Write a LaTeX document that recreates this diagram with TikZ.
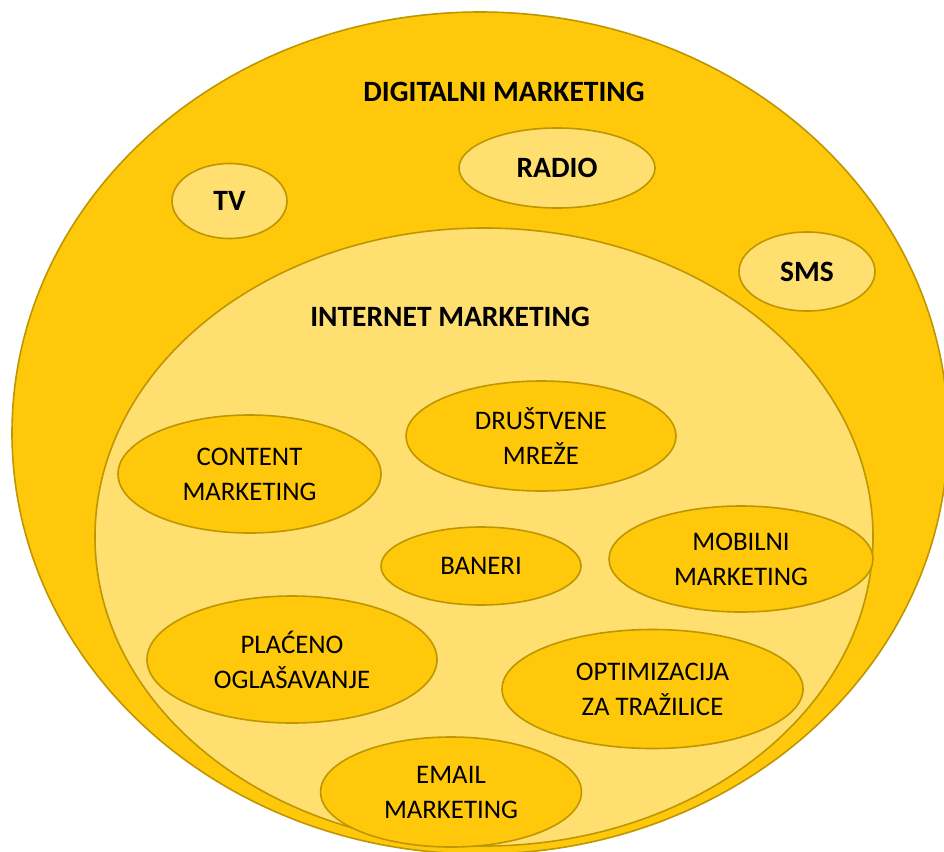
\documentclass[tikz,border=0pt]{standalone}
\usepackage{fontspec}
\setmainfont{Carlito}
\usetikzlibrary{shapes.geometric}

\definecolor{goldfill}{RGB}{255,200,10}
\definecolor{palegold}{RGB}{255,223,112}
\definecolor{goldline}{RGB}{190,150,0}

\begin{document}
\begin{tikzpicture}[x=1pt, y=-1pt,
    bubble/.style={ellipse, draw=goldline, line width=1.6pt, inner sep=0pt, align=center},
    goldbubble/.style={bubble, fill=goldfill, font=\fontsize{26.8}{35}\selectfont},
    palebubble/.style={bubble, fill=palegold, font=\bfseries\fontsize{29.5}{34}\selectfont},
    heading/.style={font=\bfseries\fontsize{29.5}{34}\selectfont}]
                    % Frame:
                    \useasboundingbox (0, 0) rectangle (944, 851);
                    \clip (0, 0) rectangle (944, 851);
                    % Outer and inner areas:
                    \node[bubble, fill=goldfill, minimum width=936, minimum height=842] (digital) at (480, 433) {};
                    \node[heading] (digitaltitle) at (504, 92) {DIGITALNI MARKETING};
                    \node[palebubble, minimum width=115, minimum height=75] (tv) at (229.5, 201) {TV};
                    \node[palebubble, minimum width=196, minimum height=80] (radio) at (557, 168) {RADIO};
                    \node[palebubble, minimum width=136, minimum height=79] (sms) at (807, 271.5) {SMS};
                    \node[bubble, fill=palegold, minimum width=778, minimum height=618] (internet) at (484, 537) {};
                    \node[heading] (internettitle) at (450, 317) {INTERNET MARKETING};
                    % Channels of internet marketing:
                    \node[goldbubble, minimum width=263, minimum height=118] (content) at (249.5, 474) {CONTENT\\MARKETING};
                    \node[goldbubble, minimum width=270, minimum height=110] (social) at (541, 436) {DRUŠTVENE\\MREŽE};
                    \node[goldbubble, minimum width=200, minimum height=78] (banners) at (481, 566) {BANERI};
                    \node[goldbubble, minimum width=264, minimum height=106] (mobile) at (741, 559) {MOBILNI\\MARKETING};
                    \node[goldbubble, minimum width=290, minimum height=127] (paid) at (292, 659.5) {PLAĆENO\\OGLAŠAVANJE};
                    \node[goldbubble, minimum width=301, minimum height=119] (seo) at (652.5, 689) {OPTIMIZACIJA\\ZA TRAŽILICE};
                    \node[goldbubble, minimum width=261, minimum height=110] (email) at (451, 792) {EMAIL\\MARKETING};
                \end{tikzpicture}
\end{document}
